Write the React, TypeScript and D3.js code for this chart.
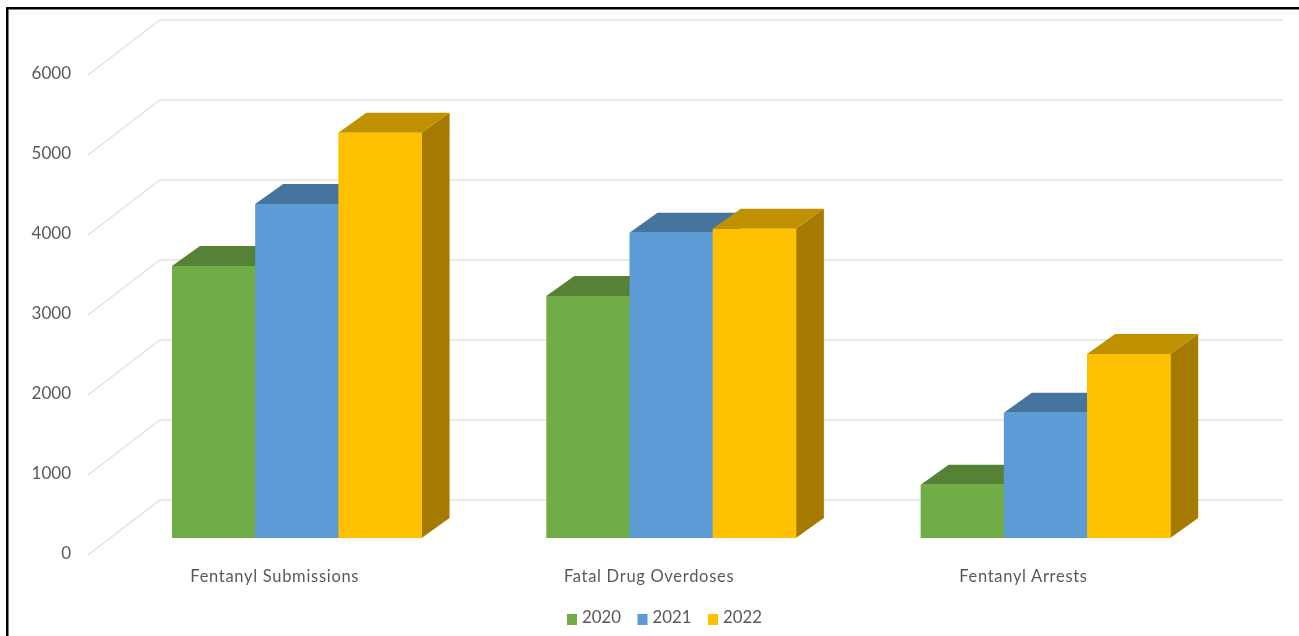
import React from "react";
import * as d3 from "d3";

const categories = ["Fentanyl Submissions", "Fatal Drug Overdoses", "Fentanyl Arrests"];
const seriesNames = ["2020", "2021", "2022"];
const values2020 = [3400, 3025, 665];
const values2021 = [4175, 3815, 1565];
const values2022 = [5065, 3865, 2300];
const seriesValues = [values2020, values2021, values2022];
const yTicks = [0, 1000, 2000, 3000, 4000, 5000, 6000];
const faceColors = ["#70ad47", "#5b9bd5", "#ffc000"];
const topColors = ["#548235", "#44749f", "#bf9000"];
const sideColors = ["#3f6228", "#34587a", "#a57a00"];

const W = 1299;
const H = 636;
const barDepthX = 28;
const barDepthY = 20;
const floorFrontX = 88;
const wallX = 160;
const wallRight = 1283;
const wallBase = 500;
const wallDepthY = 55;

const yBar = d3.scaleLinear().domain([0, 6000]).range([538, 58]);
const yWall = d3.scaleLinear().domain([0, 6000]).range([wallBase, wallBase - 480]);
const xGroup = d3.scaleBand<string>().domain(categories).range([109.6, 1232.6]).paddingInner(1 / 3).paddingOuter(1 / 6);
const xSeries = d3.scaleBand<string>().domain(seriesNames).range([0, xGroup.bandwidth()]);
const fmt = d3.format("d");

const poly = (pts: [number, number][]) => pts.map((p) => p.join(",")).join(" ");
const labelFont = "Lato, 'Open Sans', sans-serif";

export default function App() {
  const bw = xSeries.bandwidth();
  return (
    <svg width={W} height={H} viewBox={`0 0 ${W} ${H}`} style={{ position: "absolute", left: 0, top: 0, background: "#fff" }}>
      <defs>
        <filter id="soft" x="-5%" y="-5%" width="110%" height="110%">
          <feGaussianBlur stdDeviation="0.6" />
        </filter>
      </defs>
      <g filter="url(#soft)">
        {yTicks.map((t) => (
          <polyline
            key={t}
            points={poly([
              [floorFrontX, yWall(t) + wallDepthY],
              [wallX, yWall(t)],
              [wallRight, yWall(t)],
            ])}
            fill="none"
            stroke="#e2e2e2"
            strokeWidth={1.5}
          />
        ))}
        {categories.map((c, gi) => (
          <g key={c}>
            {seriesNames.map((s, si) => {
              const x0 = (xGroup(c) ?? 0) + (xSeries(s) ?? 0);
              const x1 = x0 + bw;
              const top = yBar(seriesValues[si][gi]);
              const base = yBar(0);
              return (
                <g key={s}>
                  <polygon
                    points={poly([
                      [x1, top],
                      [x1 + barDepthX, top - barDepthY],
                      [x1 + barDepthX, base - barDepthY],
                      [x1, base],
                    ])}
                    fill={sideColors[si]}
                  />
                  <polygon
                    points={poly([
                      [x0, top],
                      [x0 + barDepthX, top - barDepthY],
                      [x1 + barDepthX, top - barDepthY],
                      [x1, top],
                    ])}
                    fill={topColors[si]}
                  />
                  <rect x={x0} y={top} width={bw + 0.5} height={base - top} fill={faceColors[si]} />
                </g>
              );
            })}
          </g>
        ))}
        <g fontFamily={labelFont} fontSize={17} fill="#595959">
          {yTicks.map((t) => (
            <text key={t} x={71} y={yWall(t) + wallDepthY - 0.5} textAnchor="end" dominantBaseline="middle">
              {fmt(t)}
            </text>
          ))}
        </g>
        <g fontFamily={labelFont} fontSize={16.5} letterSpacing={0.7} fill="#595959">
          {categories.map((c) => (
            <text key={c} x={(xGroup(c) ?? 0) + xGroup.bandwidth() / 2 - 22} y={578} textAnchor="middle" dominantBaseline="middle">
              {c}
            </text>
          ))}
        </g>
        <g fontFamily={labelFont} fontSize={16.8} fill="#595959">
          {seriesNames.map((s, i) => {
            const x = 567 + i * 70.5;
            return (
              <g key={s}>
                <rect x={x} y={614} width={10} height={11} fill={faceColors[i]} />
                <text x={x + 15} y={619} dominantBaseline="middle">
                  {s}
                </text>
              </g>
            );
          })}
        </g>
      </g>
      <rect x={6} y={7} width={W} height={2.5} fill="#000" />
      <rect x={6} y={7} width={2.5} height={H} fill="#000" />
    </svg>
  );
}
